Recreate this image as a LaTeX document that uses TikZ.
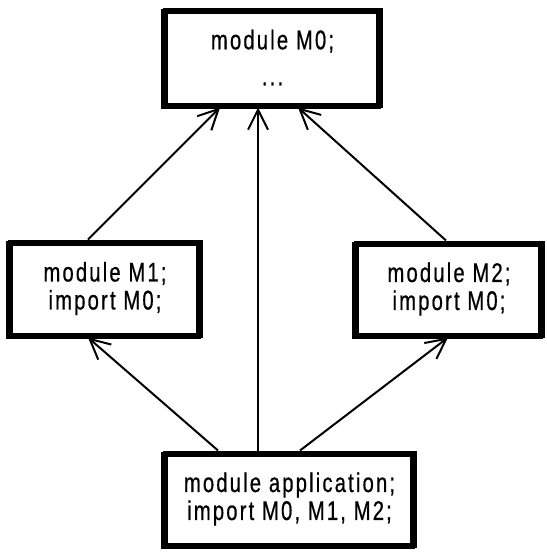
\documentclass[tikz,border=0pt]{standalone}
\usepackage{fontspec}
\setmainfont{Liberation Sans}[FakeStretch=0.75,LetterSpace=8,FakeBold=0.6]
\usepackage{tikz}
\usetikzlibrary{arrows.meta,positioning,calc}

\begin{document}
\begin{tikzpicture}[
  x=1pt, y=-1pt,
  font=\fontsize{27}{28}\selectfont,
  modbox/.style={draw, line width=5pt, align=center, inner sep=4pt,
    preaction={draw, line width=5pt, transform canvas={shift={(-1.5pt,-1.5pt)}}}},
  arr/.style={-{Straight Barb[length=20pt, width=20pt, line width=2pt]}, line width=2pt}
]
\useasboundingbox (0,0) rectangle (546,554);

% ---------- modules ----------
\node[modbox, minimum width=215pt, minimum height=95pt] (m0)  at (272.5,57.5) {module M0;\\[8pt]...};
\node[modbox, minimum width=190pt, minimum height=93pt] (m1)  at (105,288.5)  {module M1;\\import M0;};
\node[modbox, minimum width=186pt, minimum height=92pt] (m2)  at (449,289)    {module M2;\\import M0;};
\node[modbox, minimum width=249pt, minimum height=92pt] (app) at (289.5,499)  {module application;\\import M0, M1, M2;};

% ---------- imports ----------
\draw[arr] ([xshift=-71.5pt]app.north) -- ([xshift=-17pt]m1.south);
\draw[arr] ([xshift=-31.5pt]app.north) -- ([xshift=-14.5pt]m0.south);
\draw[arr] ([xshift=10.5pt]app.north)  -- ([xshift=-1pt]m2.south);
\draw[arr] ([xshift=-17pt]m1.north)    -- ([xshift=-52.5pt]m0.south);
\draw[arr] ([xshift=-3pt]m2.north)     -- ([xshift=25.5pt]m0.south);

\end{tikzpicture}
\end{document}
